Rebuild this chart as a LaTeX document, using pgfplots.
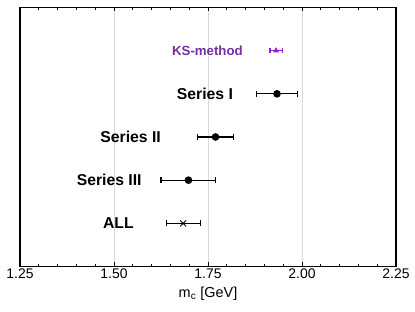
\documentclass[border=0pt]{standalone}
\usepackage{pgfplots}
\pgfplotsset{compat=1.18}
\usepackage{fontspec}
\setmainfont{Liberation Sans}
\definecolor{kslabel}{RGB}{112,48,160}
\definecolor{ksmark}{RGB}{150,30,210}
\begin{document}
\begin{tikzpicture}
\begin{axis}[
  scale only axis,
  width=376bp, height=259bp,
  xmin=1.25, xmax=2.25, ymin=0, ymax=6,
  xtick={1.25,1.5,1.75,2.0,2.25},
  xticklabels={1.25,1.50,1.75,2.00,2.25},
  minor x tick num=4,
  ytick=\empty,
  tick align=inside,
  xtick pos=both,
  major tick length=4bp, minor tick length=2.5bp,
  tick style={black, line width=0.8pt},
  axis line style={line width=1.1pt},
  xmajorgrids, major grid style={gray!30, line width=0.6pt},
  ticklabel style={font=\fontsize{14}{16}\selectfont},
  xticklabel style={yshift=1.5bp},
  xlabel={m$_{\mathrm{c}}$ [GeV]},
  xlabel style={font=\fontsize{14.5}{16}\selectfont, yshift=-2bp},
  clip=false,
]
\addplot[black, line width=1pt, mark=*, mark size=3.3pt, only marks,
  error bars/.cd, x dir=both, x explicit, error bar style={line width=1.1pt},
  error mark options={rotate=90, mark size=3pt, line width=1.1pt}]
  coordinates {(1.9335,4) +- (0.054,0) (1.770,3) +- (0.048,0) (1.698,2) +- (0.073,0)};
\addplot[black, line width=0.9pt, mark=x, mark size=4.2pt, only marks,
  error bars/.cd, x dir=both, x explicit, error bar style={line width=1.1pt},
  error mark options={rotate=90, mark size=3pt, line width=1.1pt}]
  coordinates {(1.684,1) +- (0.045,0)};
\addplot[ksmark, line width=1pt, mark=triangle*, mark size=2.5pt, only marks,
  error bars/.cd, x dir=both, x explicit, error bar style={line width=1.1pt},
  error mark options={rotate=90, mark size=2.6pt, line width=1.1pt}]
  coordinates {(1.931,5) +- (0.016,0)};
\node[anchor=east, inner sep=0pt, text=kslabel, font=\bfseries\fontsize{13.3}{15}\selectfont] at (axis cs:1.843,5) {KS-method};
\node[anchor=east, inner sep=0pt, font=\bfseries\fontsize{15.8}{18}\selectfont] at (axis cs:1.817,4) {Series I};
\node[anchor=east, inner sep=0pt, font=\bfseries\fontsize{15.8}{18}\selectfont] at (axis cs:1.625,3) {Series II};
\node[anchor=east, inner sep=0pt, font=\bfseries\fontsize{15.8}{18}\selectfont] at (axis cs:1.574,2) {Series III};
\node[anchor=east, inner sep=0pt, font=\bfseries\fontsize{15.8}{18}\selectfont] at (axis cs:1.553,1) {ALL};
\end{axis}
\path ([shift={(-20bp,-45.5bp)}]current axis.south west) rectangle ([shift={(19bp,7.5bp)}]current axis.north east);
\end{tikzpicture}
\end{document}
